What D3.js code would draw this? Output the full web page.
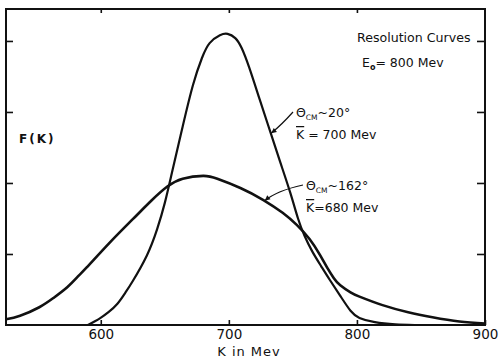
<!DOCTYPE html>
<html>
<head>
<meta charset="utf-8">
<script src="https://cdn.jsdelivr.net/npm/d3@7"></script>
<style>
  body { margin: 0; background: #fff; }
  text { font-family: "DejaVu Sans", sans-serif; fill: #111; }
</style>
</head>
<body>
<div id="chart"></div>
<script>
// Chart size
var svgWidth = 500;
var svgHeight = 358;

// plot frame in pixels
var margin = { top: 9, right: 15, bottom: 33, left: 6 };
var width = svgWidth - margin.left - margin.right;
var height = svgHeight - margin.top - margin.bottom;

// theta_CM ~ 20 deg, K bar = 700 Mev (narrow curve)
var narrowK = [590, 599, 606, 613, 619, 625, 636, 644, 650, 656, 664, 672, 679, 685, 693, 699, 705, 710, 716, 724, 732, 740, 748, 754, 759, 765, 772, 779, 787, 795, 802, 814, 830, 845];
var narrowF = [0, 0.09, 0.18, 0.30, 0.45, 0.62, 0.98, 1.35, 1.72, 2.18, 2.80, 3.38, 3.76, 3.97, 4.08, 4.10, 4.04, 3.90, 3.62, 3.18, 2.74, 2.30, 1.86, 1.50, 1.26, 1.04, 0.83, 0.63, 0.41, 0.20, 0.10, 0.04, 0.01, 0];

// theta_CM ~ 162 deg, K bar = 680 Mev (broad curve)
var broadK = [526, 537, 552, 563, 574, 582, 589, 607, 625, 640, 652, 664, 680, 691, 709, 727, 742, 753, 763, 771, 777, 782, 787, 795, 802, 820, 840, 859, 880, 900];
var broadF = [0.08, 0.13, 0.25, 0.38, 0.535, 0.68, 0.81, 1.16, 1.49, 1.76, 1.95, 2.06, 2.10, 2.06, 1.93, 1.76, 1.58, 1.41, 1.21, 0.99, 0.80, 0.66, 0.56, 0.46, 0.40, 0.28, 0.18, 0.11, 0.05, 0.02];

var xTicks = [600, 700, 800, 900];
var yTicks = [1, 2, 3, 4];

var svg = d3.select("#chart")
    .append("svg")
    .attr("width", svgWidth)
    .attr("height", svgHeight);

var chartGroup = svg.append("g")
    .attr("transform", `translate(${margin.left}, ${margin.top})`);

var x = d3.scaleLinear().domain([526, 900]).range([0, width]);
var y = d3.scaleLinear().domain([0, 4.45]).range([height, 0]);

// axes: ticks point inward, frame drawn as a rect
var bottomAxis = d3.axisBottom(x).tickValues(xTicks).tickSize(-5).tickPadding(4).tickFormat(d3.format("d"));
var topAxis = d3.axisTop(x).tickValues([600, 700, 800]).tickSize(-4).tickFormat("");
var leftAxis = d3.axisLeft(y).tickValues(yTicks).tickSize(-7).tickFormat("");
var rightAxis = d3.axisRight(y).tickValues(yTicks).tickSize(-8).tickFormat("");

function styleAxis(g) {
  g.select(".domain").remove();
  g.selectAll("line").attr("stroke", "#111").attr("stroke-width", 1.6);
  g.selectAll("text")
    .style("font-family", "DejaVu Sans, sans-serif")
    .style("font-size", "13.5px")
    .attr("fill", "#111");
}

chartGroup.append("g").attr("transform", `translate(0, ${height})`).call(bottomAxis).call(styleAxis);
chartGroup.append("g").call(topAxis).call(styleAxis);
chartGroup.append("g").call(leftAxis).call(styleAxis);
chartGroup.append("g").attr("transform", `translate(${width}, 0)`).call(rightAxis).call(styleAxis);

chartGroup.append("rect")
  .attr("x", 0).attr("y", 0)
  .attr("width", width).attr("height", height)
  .attr("fill", "none")
  .attr("stroke", "#111")
  .attr("stroke-width", 2);

// curves
var line = d3.line()
  .x(d => x(d[0]))
  .y(d => y(d[1]))
  .curve(d3.curveNatural);

chartGroup.append("path")
  .datum(narrowK.map((k, i) => [k, narrowF[i]]))
  .attr("d", line)
  .attr("fill", "none")
  .attr("stroke", "#111")
  .attr("stroke-width", 2.2);

chartGroup.append("path")
  .datum(broadK.map((k, i) => [k, broadF[i]]))
  .attr("d", line)
  .attr("fill", "none")
  .attr("stroke", "#111")
  .attr("stroke-width", 2.6);

// axis titles
svg.append("text")
  .attr("x", 19).attr("y", 143)
  .style("font-size", "12px")
  .style("font-weight", "bold")
  .style("letter-spacing", "2px")
  .text("F(K)");

svg.append("text")
  .attr("x", 249).attr("y", 356)
  .attr("text-anchor", "middle")
  .style("font-size", "13px")
  .style("letter-spacing", "1px")
  .text("K in Mev");

// legend text at top right
svg.append("text")
  .attr("x", 357).attr("y", 42)
  .style("font-size", "12.6px")
  .text("Resolution Curves");

var eo = svg.append("text").attr("x", 362).attr("y", 67).style("font-size", "12.5px");
eo.append("tspan").text("E");
eo.append("tspan").attr("dy", 3).style("font-size", "8px").style("font-weight", "bold").text("o");
eo.append("tspan").attr("dy", -3).text("= 800 Mev");

// curve labels with arrows
function curveLabel(tx, ty, angle, kbar, tipK, tipF, ctrl) {
  var t = svg.append("text").attr("x", tx).attr("y", ty).style("font-size", "12.5px");
  t.append("tspan").text("\u0398");
  t.append("tspan").attr("dy", 3).style("font-size", "7.5px").text("CM");
  t.append("tspan").attr("dy", -3).text("~" + angle + "\u00b0");

  var k = svg.append("text").attr("x", tx).attr("y", ty + 22).style("font-size", "12.5px");
  k.append("tspan").style("text-decoration", "overline").text("K");
  k.append("tspan").text(kbar);

  var px = margin.left + x(tipK), py = margin.top + y(tipF);
  var sx = tx - 3, sy = ty - 5;
  svg.append("path")
    .attr("d", `M${sx},${sy} Q${px + ctrl[0]},${py + ctrl[1]} ${px},${py}`)
    .attr("fill", "none")
    .attr("stroke", "#111")
    .attr("stroke-width", 1.2);
  // arrow head
  var ang = Math.atan2(py - (py + ctrl[1]), px - (px + ctrl[0]));
  var a1 = ang + 2.7, a2 = ang - 2.7;
  svg.append("path")
    .attr("d", `M${px},${py} L${px + 6 * Math.cos(a1)},${py + 6 * Math.sin(a1)} L${px + 6 * Math.cos(a2)},${py + 6 * Math.sin(a2)} Z`)
    .attr("fill", "#111");
}

curveLabel(296, 117, "20", " = 700 Mev", 733, 2.70, [10, -8]);
curveLabel(306, 190, "162", "=680 Mev", 728, 1.75, [12, -10]);
</script>
</body>
</html>
